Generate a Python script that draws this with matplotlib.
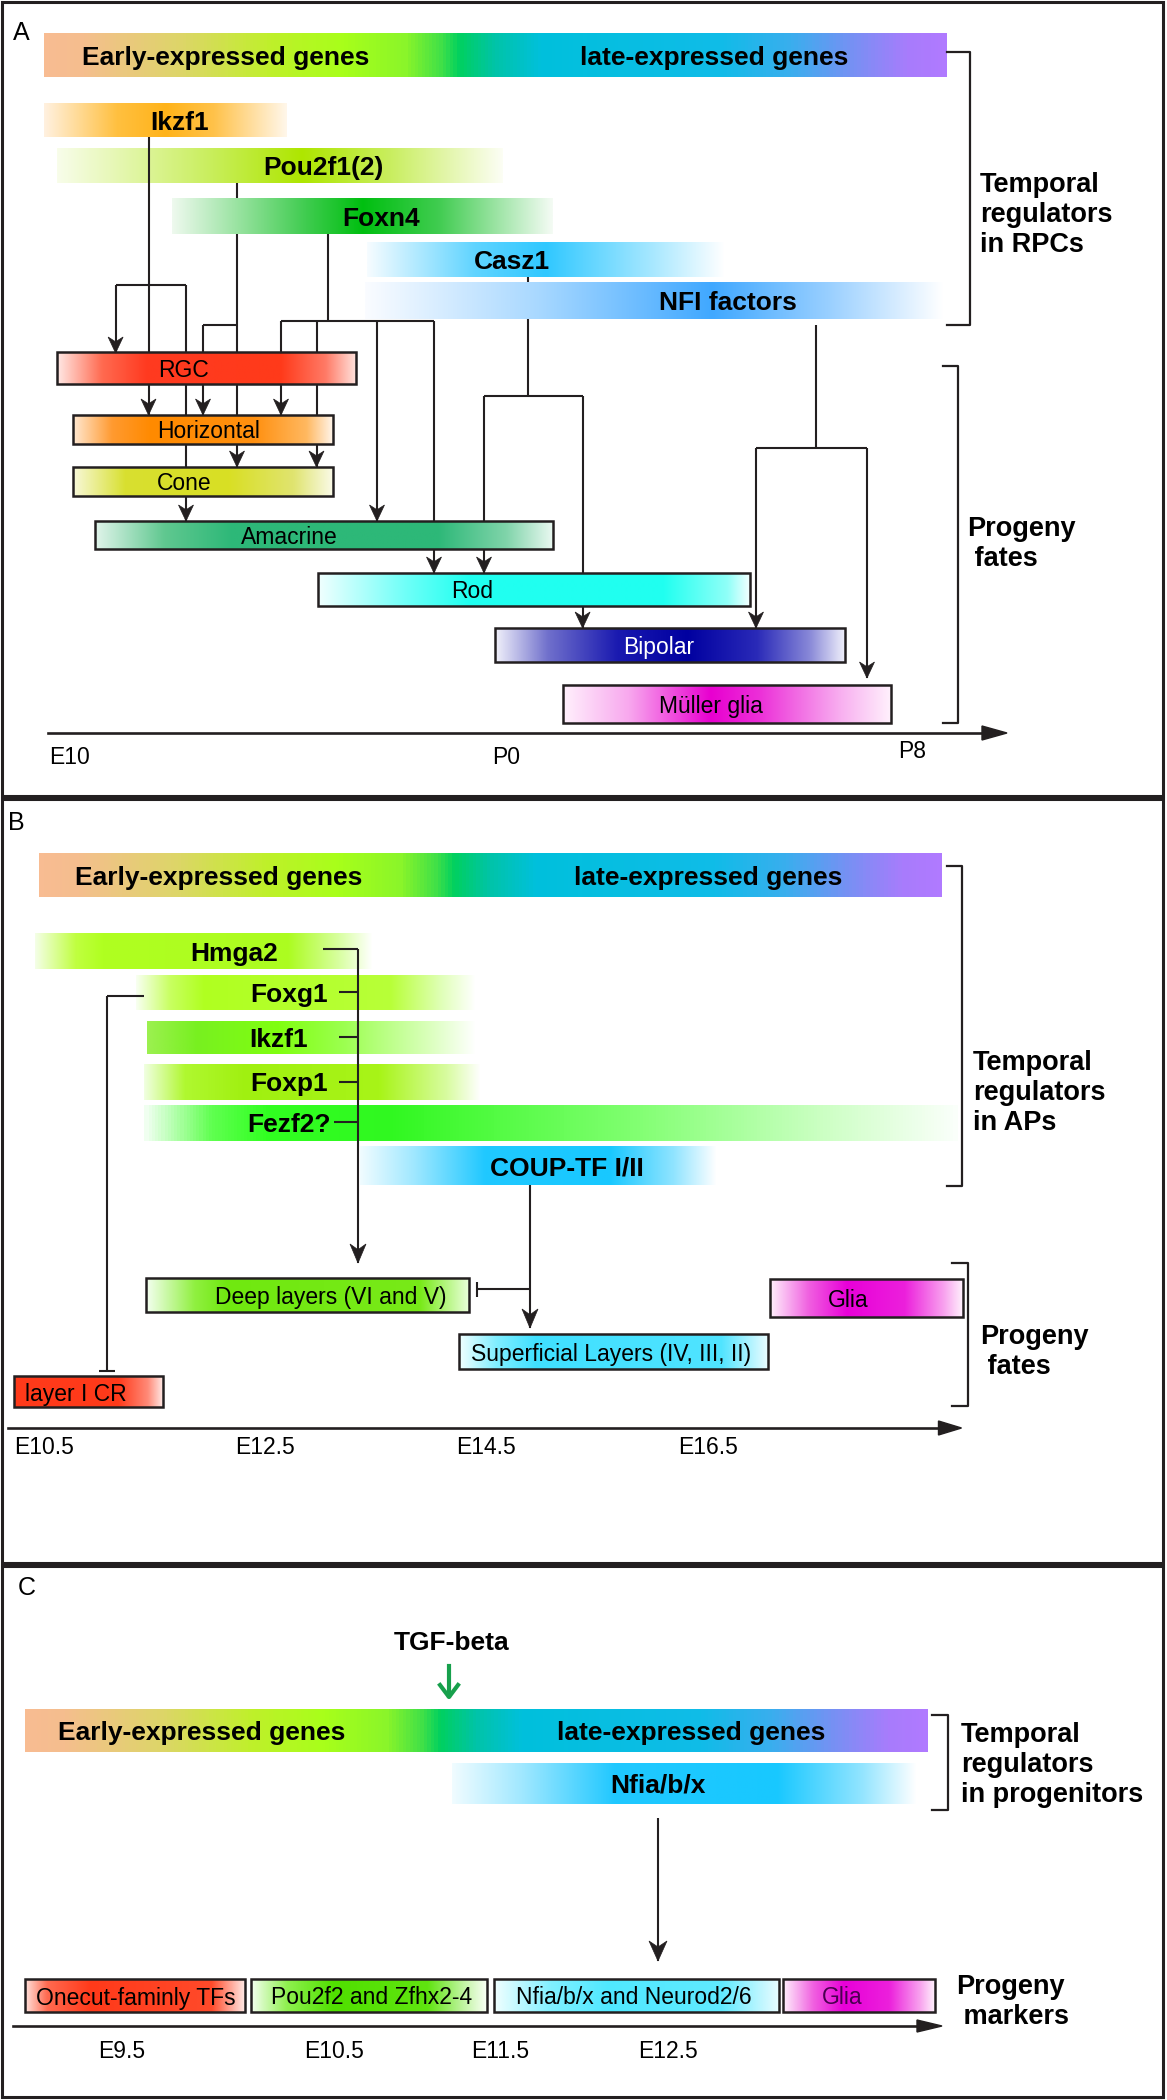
import numpy as np
import matplotlib
matplotlib.use('Agg')
import matplotlib.pyplot as plt
from matplotlib import font_manager
from matplotlib.colors import LinearSegmentedColormap
from matplotlib.patches import Rectangle, Polygon

names = {f.name for f in font_manager.fontManager.ttflist}
NARROW = 'Liberation Sans Narrow' if 'Liberation Sans Narrow' in names else 'Liberation Sans'
plt.rcParams['font.family'] = [NARROW, 'DejaVu Sans']
INK = '#231F20'

# ---------------- data ----------------
top_labels = ['Early-expressed genes', 'late-expressed genes']
top_stops = [(0, '#F8BC92'), (0.04, '#F5BE8E'), (0.15, '#DDD668'), (0.25, '#BFF02A'),
             (0.33, '#A8FF1A'), (0.40, '#8AF52A'), (0.44, '#40E048'), (0.46, '#00D060'),
             (0.50, '#00C4A8'), (0.55, '#00C0DC'), (0.75, '#10BCE8'), (0.83, '#3AAEEE'),
             (0.90, '#7890F4'), (0.96, '#A87CFC'), (1.0, '#B07AFF')]

# panel A - retina
a_genes = ['Ikzf1', 'Pou2f1(2)', 'Foxn4', 'Casz1', 'NFI factors']
a_gene_start = [44, 57, 172, 367, 365]
a_gene_end = [287, 503, 553, 725, 944]
a_gene_top = [103, 148, 198, 242, 282]
a_gene_bot = [137, 183, 234, 277, 319]
a_gene_tx = [180, 323, 381, 512, 728]
a_gene_cols = [
    [(0, '#FFF1E0'), (0.3, '#FFC040'), (0.5, '#FFB31A'), (0.7, '#FFC24A'), (1, '#FFF7EA')],
    [(0, '#F8FDEA'), (0.35, '#C8EE5A'), (0.55, '#AEE600'), (0.75, '#C9EE60'), (1, '#FCFEF4')],
    [(0, '#EEF9EE'), (0.35, '#40CC50'), (0.5, '#00BF10'), (0.7, '#40CC50'), (1, '#F4FBF4')],
    [(0, '#F6FCFF'), (0.3, '#60D4FF'), (0.5, '#30C8FF'), (0.8, '#A8E8FF'), (1, '#FFFFFF')],
    [(0, '#FAFCFF'), (0.3, '#A8D8FF'), (0.6, '#40A8FF'), (0.8, '#98CFFF'), (1, '#FFFFFF')],
]
a_fates = ['RGC', 'Horizontal', 'Cone', 'Amacrine', 'Rod', 'Bipolar', 'Müller glia']
a_fate_start = [57, 73, 73, 95, 318, 495, 563]
a_fate_end = [356, 333, 333, 553, 750, 845, 891]
a_fate_top = [352, 415, 467, 521, 573, 628, 685]
a_fate_bot = [384, 444, 496, 549, 606, 662, 723]
a_fate_tx = [183, 209, 184, 289, 472, 659, 711]
a_fate_txtcol = ['black'] * 5 + ['white', 'black']
a_fate_cols = [
    [(0, '#FFE8E4'), (0.15, '#FF6A50'), (0.3, '#FF3A20'), (0.75, '#FF3A1A'), (0.9, '#FF7A66'), (1, '#FFE0DA')],
    [(0, '#FFE8D0'), (0.15, '#FF9A30'), (0.3, '#FF8A00'), (0.7, '#FF9010'), (0.9, '#FFB860'), (1, '#FFF4E8')],
    [(0, '#F8F8D8'), (0.2, '#D8E030'), (0.6, '#D9DF24'), (0.85, '#E0E470'), (1, '#FAFAE6')],
    [(0, '#E0F4EA'), (0.15, '#60C890'), (0.3, '#2DB878'), (0.75, '#2DB878'), (0.9, '#80D4AA'), (1, '#E8F8F0')],
    [(0, '#F0FFFF'), (0.2, '#70FFF8'), (0.35, '#20FFF0'), (0.8, '#20FFF0'), (0.95, '#90FFF8'), (1, '#F0FFFF')],
    [(0, '#F0F0FA'), (0.15, '#7070CC'), (0.35, '#1A1AB0'), (0.55, '#0000A0'), (0.75, '#2A2AB8'), (0.9, '#8888D8'), (1, '#EEEEFA')],
    [(0, '#FFF0FC'), (0.2, '#F8A8EE'), (0.45, '#E800D0'), (0.6, '#EC30D8'), (0.85, '#F8B0F0'), (1, '#FFF0FC')],
]
a_ticks = ['E10', 'P0', 'P8']
a_tick_x = [49, 492, 898]
# connector segments: x0, y0, x1, y1, arrow at end
a_links = [
    (148.5, 137, 148.5, 353, 0), (115.6, 285, 186, 285, 0), (115.6, 285, 115.6, 353, 1),
    (186, 285, 186, 353, 0), (148.5, 384, 148.5, 415, 1), (186, 384, 186, 415, 0),
    (186, 444, 186, 467, 0), (186, 496, 186, 521, 1),
    (237, 183, 237, 198, 0), (237, 234, 237, 353, 0), (203, 325, 237, 325, 0),
    (203, 325, 203, 353, 0), (203, 384, 203, 415, 1), (237, 384, 237, 415, 0),
    (237, 444, 237, 467, 1),
    (328, 234, 328, 321, 0), (281, 321, 434, 321, 0), (281, 321, 281, 353, 0),
    (281, 384, 281, 415, 1), (316.5, 321, 316.5, 353, 0), (316.5, 384, 316.5, 415, 0),
    (316.5, 444, 316.5, 467, 1), (377, 321, 377, 521, 1), (434, 321, 434, 521, 0),
    (434, 549, 434, 573, 1),
    (528, 277, 528, 282, 0), (528, 319, 528, 396, 0), (484, 396, 582.6, 396, 0),
    (484, 396, 484, 521, 0), (484, 549, 484, 573, 1), (582.6, 396, 582.6, 573, 0),
    (582.6, 606, 582.6, 628, 1),
    (816, 325, 816, 448, 0), (756, 448, 867, 448, 0), (756, 448, 756, 628, 1),
    (867, 448, 867, 678, 1),
]

# panel B - cortex
b_genes = ['Hmga2', 'Foxg1', 'Ikzf1', 'Foxp1', 'Fezf2?', 'COUP-TF I/II']
b_gene_start = [35, 136, 147, 143.5, 143.5, 360]
b_gene_end = [373, 476, 476, 480, 957, 717]
b_gene_top = [933, 975, 1021, 1064, 1105, 1146]
b_gene_bot = [969, 1010, 1054, 1100, 1141, 1185]
b_gene_tx = [234, 289, 279, 289, 289, 567]
b_gene_cols = [
    [(0, '#F4FEE6'), (0.12, '#C0FF40'), (0.2, '#B0FF20'), (0.75, '#ACFC20'), (0.9, '#D8FFA0'), (1, '#FFFFFF')],
    [(0, '#F8FFF0'), (0.1, '#C8FF60'), (0.2, '#B0FF20'), (0.75, '#B8FF38'), (0.9, '#E0FFB8'), (1, '#FFFFFF')],
    [(0, '#9CF050'), (0.15, '#78F020'), (0.4, '#80FF10'), (0.6, '#9CFF50'), (0.85, '#D8FFB8'), (1, '#FFFFFF')],
    [(0, '#F0FFE0'), (0.12, '#B0F830'), (0.3, '#A0F010'), (0.7, '#A8F418'), (0.9, '#D8FCA0'), (1, '#FFFFFF')],
    [(0, '#F0FFF0'), (0.08, '#60FF50'), (0.15, '#30FF20'), (0.3, '#30F820'), (0.6, '#80FF70'), (0.85, '#D0FFC8'), (1, '#FAFFFA')],
    [(0, '#F0FCFF'), (0.15, '#A0E8FF'), (0.35, '#20C8FF'), (0.7, '#18C8FF'), (0.88, '#90E4FF'), (1, '#FFFFFF')],
]
b_fates = ['Deep layers (VI and V)', 'Superficial Layers (IV, III, II)', 'Glia', 'layer I CR']
b_fate_start = [146, 459, 770, 14]
b_fate_end = [469, 768, 963, 163]
b_fate_top = [1278, 1334, 1279, 1376]
b_fate_bot = [1312, 1369, 1317, 1407]
b_fate_tx = [331, 611, 848, 76]
b_fate_cols = [
    [(0, '#F4FFF0'), (0.15, '#90F040'), (0.25, '#70E810'), (0.85, '#78EA18'), (1, '#E8FFD8')],
    [(0, '#F0FFFF'), (0.12, '#80EEFF'), (0.25, '#40E0FF'), (0.85, '#50E4FF'), (1, '#E8FCFF')],
    [(0, '#FFF0FC'), (0.2, '#F060E0'), (0.4, '#E800D8'), (0.7, '#EC20DC'), (0.9, '#F8A0EE'), (1, '#FFF0FC')],
    [(0, '#FF3A1A'), (0.7, '#FF3A1A'), (0.9, '#FF8A78'), (1, '#FFE8E4')],
]
b_ticks = ['E10.5', 'E12.5', 'E14.5', 'E16.5']
b_tick_x = [14, 235, 456, 678]

# panel C - spinal cord
c_fates = ['Onecut-faminly TFs', 'Pou2f2 and Zfhx2-4', 'Nfia/b/x and Neurod2/6', 'Glia']
c_fate_start = [25, 251, 494, 783]
c_fate_end = [245, 487, 779, 935]
c_fate_tx = [136, 372, 634, 842]
c_fate_txtcol = ['black', 'black', 'black', '#4A0050']
c_fate_cols = [
    [(0, '#FFE0DA'), (0.1, '#FF6A50'), (0.3, '#FF3A1A'), (0.85, '#FF4A2A'), (1, '#FFE8E4')],
    [(0, '#F4FFF0'), (0.15, '#90F050'), (0.35, '#50E000'), (0.75, '#60E410'), (0.9, '#C0F4A0'), (1, '#F8FFF4')],
    [(0, '#F0FFFF'), (0.2, '#80F0FF'), (0.4, '#50E8FF'), (0.8, '#60EAFF'), (1, '#E8FCFF')],
    b_fate_cols[2],
]
c_ticks = ['E9.5', 'E10.5', 'E11.5', 'E12.5']
c_tick_x = [122, 334, 500, 668]

# ---------------- drawing ----------------
fig = plt.figure(figsize=(11.67, 21.0), dpi=100)
ax = fig.add_axes([0, 0, 1, 1])
ax.axis('off')


def grad(x0, x1, y0, y1, stops, border=False):
    cmap = LinearSegmentedColormap.from_list('g', stops)
    ax.imshow(np.linspace(0, 1, 256).reshape(1, -1), cmap=cmap, extent=(x0, x1, y1, y0),
              aspect='auto', interpolation='bilinear', zorder=2)
    if border:
        ax.add_patch(Rectangle((x0, y0), x1 - x0, y1 - y0, fill=False, ec=INK, lw=1.8, zorder=4))


def arrowhead(x, y, w=7.5, L=16):
    ax.add_patch(Polygon([(x, y), (x - w, y - L), (x, y - 0.7 * L), (x + w, y - L)],
                         closed=True, fc=INK, ec=INK, lw=0.5, zorder=5))


def link(x0, y0, x1, y1, arrow, w=7.5, L=16):
    ax.plot([x0, x1], [y0, y1], color=INK, lw=1.5, zorder=3, solid_capstyle='butt')
    if arrow:
        arrowhead(x1, y1, w, L)


def axis_line(x0, x1, y, L=25, h=7):
    ax.plot([x0, x1 - L * 0.6], [y, y], color=INK, lw=1.9, zorder=3)
    ax.add_patch(Polygon([(x1, y), (x1 - L, y - h), (x1 - L, y + h)], closed=True, fc=INK, ec=INK, zorder=3))


def bracket(x, xt, y0, y1):
    ax.plot([xt, x, x, xt], [y0, y0, y1, y1], color=INK, lw=1.6, zorder=3)


def top_bar(x0, x1, y0, y1, tx1, tx2):
    grad(x0, x1, y0, y1, top_stops)
    ym = (y0 + y1) / 2
    ax.text(tx1, ym, top_labels[0], fontsize=19, fontweight='bold', ha='center', va='center_baseline', zorder=6)
    ax.text(tx2, ym, top_labels[1], fontsize=19, fontweight='bold', ha='center', va='center_baseline', zorder=6)


def side_label(x, y, s):
    ax.text(x, y, s, fontsize=19.5, fontweight='bold', ha='left', va='center', linespacing=1.2)


# panel frames
for y0, y1 in [(2, 796), (799, 1563), (1566, 2097)]:
    ax.add_patch(Rectangle((2, y0), 1161, y1 - y0, fill=False, ec=INK, lw=2.2, zorder=1))
for s, x, y in [('A', 13, 33), ('B', 8, 823), ('C', 18, 1588)]:
    ax.text(x, y, s, fontsize=18, family=['Liberation Sans', 'DejaVu Sans'], ha='left', va='center')

# ----- panel A -----
top_bar(44, 947, 33, 77, 226, 714)
for i, g in enumerate(a_genes):
    grad(a_gene_start[i], a_gene_end[i], a_gene_top[i], a_gene_bot[i], a_gene_cols[i])
    ax.text(a_gene_tx[i], (a_gene_top[i] + a_gene_bot[i]) / 2, g, fontsize=19, fontweight='bold',
            ha='center', va='center_baseline', zorder=6)
for i, f in enumerate(a_fates):
    grad(a_fate_start[i], a_fate_end[i], a_fate_top[i], a_fate_bot[i], a_fate_cols[i], border=True)
    ax.text(a_fate_tx[i], (a_fate_top[i] + a_fate_bot[i]) / 2, f, fontsize=16.5, color=a_fate_txtcol[i],
            ha='center', va='center_baseline', zorder=6)
for l in a_links:
    link(*l)
bracket(970, 947, 52, 325)
side_label(980, 215, 'Temporal\nregulators\nin RPCs')
bracket(958, 943, 366, 723)
side_label(967, 544, 'Progeny\n fates')
axis_line(48, 1007, 733)
for t, x in zip(a_ticks, a_tick_x):
    ax.text(x, 757 if t != 'P8' else 752, t, fontsize=16.5, ha='left', va='center')

# ----- panel B -----
top_bar(39, 942, 853, 897, 219, 708)
for i, g in enumerate(b_genes):
    grad(b_gene_start[i], b_gene_end[i], b_gene_top[i], b_gene_bot[i], b_gene_cols[i])
    ax.text(b_gene_tx[i], (b_gene_top[i] + b_gene_bot[i]) / 2, g, fontsize=19, fontweight='bold',
            ha='center', va='center_baseline', zorder=6)
for i, f in enumerate(b_fates):
    grad(b_fate_start[i], b_fate_end[i], b_fate_top[i], b_fate_bot[i], b_fate_cols[i], border=True)
    ax.text(b_fate_tx[i], (b_fate_top[i] + b_fate_bot[i]) / 2, f, fontsize=16.5,
            ha='center', va='center_baseline', zorder=6)
for x0, y in [(323, 949), (339, 992), (339, 1037), (339, 1082), (334, 1122)]:
    link(x0, y, 358, y, 0)
link(358, 949, 358, 1263, 1, 8, 19)
link(143.5, 996, 107, 996, 0)
link(107, 996, 107, 1371, 0)
link(99, 1371, 115, 1371, 0)
link(530, 1185, 530, 1328, 1, 8, 19)
link(530, 1289, 476.5, 1289, 0)
link(476.5, 1282, 476.5, 1297, 0)
bracket(961.5, 947, 866, 1186)
side_label(973, 1093, 'Temporal\nregulators\nin APs')
bracket(968, 952, 1263, 1406)
side_label(980, 1352, 'Progeny\n fates')
axis_line(8, 961.5, 1428, 23, 7)
for t, x in zip(b_ticks, b_tick_x):
    ax.text(x, 1447, t, fontsize=16.5, ha='left', va='center')

# ----- panel C -----
ax.text(452, 1640, 'TGF-beta', fontsize=19, fontweight='bold', ha='center', va='center_baseline')
ax.plot([449, 449], [1666, 1696], color='#17A04C', lw=3, zorder=3)
ax.plot([440, 449, 458], [1685, 1697, 1685], color='#17A04C', lw=3, zorder=3)
top_bar(25, 928, 1709, 1752, 202, 691)
grad(452, 917, 1763, 1804, b_gene_cols[5])
ax.text(658, 1783, 'Nfia/b/x', fontsize=19, fontweight='bold', ha='center', va='center_baseline', zorder=6)
bracket(947.5, 932, 1715, 1810)
side_label(961, 1765, 'Temporal\nregulators\nin progenitors')
link(658, 1818, 658, 1961, 1, 9, 20)
for i, f in enumerate(c_fates):
    grad(c_fate_start[i], c_fate_end[i], 1979, 2012, c_fate_cols[i], border=True)
    ax.text(c_fate_tx[i], 1995.5, f, fontsize=16.5, color=c_fate_txtcol[i],
            ha='center', va='center_baseline', zorder=6)
side_label(956, 2002, 'Progeny\n markers')
axis_line(12.6, 942, 2026, 25, 6)
for t, x in zip(c_ticks, c_tick_x):
    ax.text(x, 2051, t, fontsize=16.5, ha='center', va='center')

ax.set_xlim(0, 1167)
ax.set_ylim(2100, 0)
fig.savefig('out.png', dpi=100)
